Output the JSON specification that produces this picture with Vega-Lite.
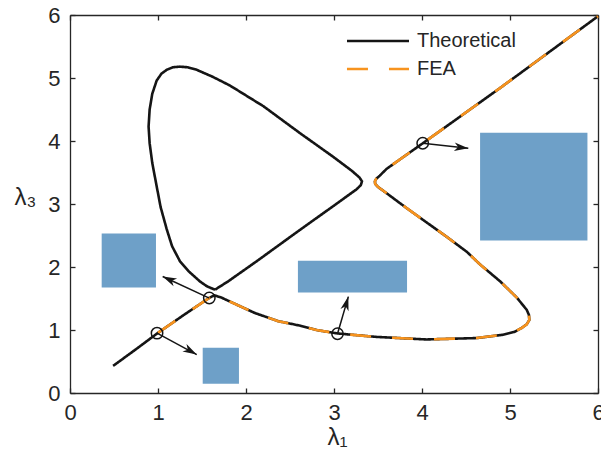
{
"$schema":"https://vega.github.io/schema/vega-lite/v6.json",
"width":528,"height":378,"autosize":"none",
"padding":{"left":70,"top":15,"right":3,"bottom":62},
"config":{
 "font":"Liberation Sans",
 "view":{"stroke":null},
 "axis":{"domainColor":"#262626","domainWidth":1.3,"tickColor":"#262626","tickWidth":1.3,"labelColor":"#262626","titleColor":"#262626","labelFontSize":22,"grid":false,"titleFontWeight":"normal","labelFlush":false,"labelOverlap":false},
 "legend":{"symbolType":"M-5,0H5","symbolSize":154,"symbolStrokeWidth":2.5,"labelFontSize":20,"labelColor":"#262626","labelOffset":29,"rowPadding":8,"padding":0}
},
"datasets":{
 "curves":[
  {"series":"Theoretical","branch":"main","i":0,"x":0.49,"y":0.43},
  {"series":"Theoretical","branch":"main","i":1,"x":0.75,"y":0.695},
  {"series":"Theoretical","branch":"main","i":2,"x":1.0,"y":0.955},
  {"series":"Theoretical","branch":"main","i":3,"x":1.3,"y":1.245},
  {"series":"Theoretical","branch":"main","i":4,"x":1.583,"y":1.51},
  {"series":"Theoretical","branch":"main","i":5,"x":1.64,"y":1.55},
  {"series":"Theoretical","branch":"main","i":6,"x":1.72,"y":1.515},
  {"series":"Theoretical","branch":"main","i":7,"x":1.84,"y":1.437},
  {"series":"Theoretical","branch":"main","i":8,"x":2.1,"y":1.27},
  {"series":"Theoretical","branch":"main","i":9,"x":2.367,"y":1.14},
  {"series":"Theoretical","branch":"main","i":10,"x":2.61,"y":1.07},
  {"series":"Theoretical","branch":"main","i":11,"x":2.8,"y":1.0},
  {"series":"Theoretical","branch":"main","i":12,"x":3.04,"y":0.945},
  {"series":"Theoretical","branch":"main","i":13,"x":3.485,"y":0.89},
  {"series":"Theoretical","branch":"main","i":14,"x":4.05,"y":0.85},
  {"series":"Theoretical","branch":"main","i":15,"x":4.62,"y":0.872},
  {"series":"Theoretical","branch":"main","i":16,"x":4.92,"y":0.925},
  {"series":"Theoretical","branch":"main","i":17,"x":5.05,"y":0.97},
  {"series":"Theoretical","branch":"main","i":18,"x":5.13,"y":1.03},
  {"series":"Theoretical","branch":"main","i":19,"x":5.19,"y":1.09},
  {"series":"Theoretical","branch":"main","i":20,"x":5.22,"y":1.16},
  {"series":"Theoretical","branch":"main","i":21,"x":5.215,"y":1.24},
  {"series":"Theoretical","branch":"main","i":22,"x":5.19,"y":1.32},
  {"series":"Theoretical","branch":"main","i":23,"x":5.08,"y":1.51},
  {"series":"Theoretical","branch":"main","i":24,"x":4.89,"y":1.77},
  {"series":"Theoretical","branch":"main","i":25,"x":4.66,"y":2.04},
  {"series":"Theoretical","branch":"main","i":26,"x":4.51,"y":2.24},
  {"series":"Theoretical","branch":"main","i":27,"x":4.28,"y":2.48},
  {"series":"Theoretical","branch":"main","i":28,"x":3.826,"y":2.934},
  {"series":"Theoretical","branch":"main","i":29,"x":3.56,"y":3.21},
  {"series":"Theoretical","branch":"main","i":30,"x":3.5,"y":3.27},
  {"series":"Theoretical","branch":"main","i":31,"x":3.468,"y":3.32},
  {"series":"Theoretical","branch":"main","i":32,"x":3.465,"y":3.36},
  {"series":"Theoretical","branch":"main","i":33,"x":3.48,"y":3.4},
  {"series":"Theoretical","branch":"main","i":34,"x":3.52,"y":3.45},
  {"series":"Theoretical","branch":"main","i":35,"x":3.6,"y":3.56},
  {"series":"Theoretical","branch":"main","i":36,"x":4.01,"y":3.965},
  {"series":"Theoretical","branch":"main","i":37,"x":4.886,"y":4.84},
  {"series":"Theoretical","branch":"main","i":38,"x":6.0,"y":5.98},
  {"series":"Theoretical","branch":"loop","i":0,"x":1.648,"y":1.64},
  {"series":"Theoretical","branch":"loop","i":1,"x":1.56,"y":1.69},
  {"series":"Theoretical","branch":"loop","i":2,"x":1.477,"y":1.77},
  {"series":"Theoretical","branch":"loop","i":3,"x":1.35,"y":1.93},
  {"series":"Theoretical","branch":"loop","i":4,"x":1.25,"y":2.09},
  {"series":"Theoretical","branch":"loop","i":5,"x":1.16,"y":2.33},
  {"series":"Theoretical","branch":"loop","i":6,"x":1.099,"y":2.6},
  {"series":"Theoretical","branch":"loop","i":7,"x":1.03,"y":2.95},
  {"series":"Theoretical","branch":"loop","i":8,"x":0.985,"y":3.28},
  {"series":"Theoretical","branch":"loop","i":9,"x":0.935,"y":3.65},
  {"series":"Theoretical","branch":"loop","i":10,"x":0.905,"y":3.965},
  {"series":"Theoretical","branch":"loop","i":11,"x":0.893,"y":4.23},
  {"series":"Theoretical","branch":"loop","i":12,"x":0.905,"y":4.5},
  {"series":"Theoretical","branch":"loop","i":13,"x":0.935,"y":4.75},
  {"series":"Theoretical","branch":"loop","i":14,"x":0.985,"y":4.96},
  {"series":"Theoretical","branch":"loop","i":15,"x":1.04,"y":5.07},
  {"series":"Theoretical","branch":"loop","i":16,"x":1.099,"y":5.13},
  {"series":"Theoretical","branch":"loop","i":17,"x":1.17,"y":5.17},
  {"series":"Theoretical","branch":"loop","i":18,"x":1.25,"y":5.18},
  {"series":"Theoretical","branch":"loop","i":19,"x":1.34,"y":5.17},
  {"series":"Theoretical","branch":"loop","i":20,"x":1.44,"y":5.13},
  {"series":"Theoretical","branch":"loop","i":21,"x":1.62,"y":5.02},
  {"series":"Theoretical","branch":"loop","i":22,"x":1.818,"y":4.88},
  {"series":"Theoretical","branch":"loop","i":23,"x":2.2,"y":4.55},
  {"series":"Theoretical","branch":"loop","i":24,"x":2.614,"y":4.124},
  {"series":"Theoretical","branch":"loop","i":25,"x":2.99,"y":3.75},
  {"series":"Theoretical","branch":"loop","i":26,"x":3.2,"y":3.53},
  {"series":"Theoretical","branch":"loop","i":27,"x":3.29,"y":3.42},
  {"series":"Theoretical","branch":"loop","i":28,"x":3.318,"y":3.36},
  {"series":"Theoretical","branch":"loop","i":29,"x":3.305,"y":3.3},
  {"series":"Theoretical","branch":"loop","i":30,"x":3.258,"y":3.235},
  {"series":"Theoretical","branch":"loop","i":31,"x":3.0,"y":2.975},
  {"series":"Theoretical","branch":"loop","i":32,"x":2.614,"y":2.59},
  {"series":"Theoretical","branch":"loop","i":33,"x":2.12,"y":2.09},
  {"series":"Theoretical","branch":"loop","i":34,"x":1.8,"y":1.775},
  {"series":"Theoretical","branch":"loop","i":35,"x":1.648,"y":1.64},
  {"series":"FEA","branch":"fea","i":2,"x":1.0,"y":0.955},
  {"series":"FEA","branch":"fea","i":3,"x":1.3,"y":1.245},
  {"series":"FEA","branch":"fea","i":4,"x":1.583,"y":1.51},
  {"series":"FEA","branch":"fea","i":5,"x":1.64,"y":1.55},
  {"series":"FEA","branch":"fea","i":6,"x":1.72,"y":1.515},
  {"series":"FEA","branch":"fea","i":7,"x":1.84,"y":1.437},
  {"series":"FEA","branch":"fea","i":8,"x":2.1,"y":1.27},
  {"series":"FEA","branch":"fea","i":9,"x":2.367,"y":1.14},
  {"series":"FEA","branch":"fea","i":10,"x":2.61,"y":1.07},
  {"series":"FEA","branch":"fea","i":11,"x":2.8,"y":1.0},
  {"series":"FEA","branch":"fea","i":12,"x":3.04,"y":0.945},
  {"series":"FEA","branch":"fea","i":13,"x":3.485,"y":0.89},
  {"series":"FEA","branch":"fea","i":14,"x":4.05,"y":0.85},
  {"series":"FEA","branch":"fea","i":15,"x":4.62,"y":0.872},
  {"series":"FEA","branch":"fea","i":16,"x":4.92,"y":0.925},
  {"series":"FEA","branch":"fea","i":17,"x":5.05,"y":0.97},
  {"series":"FEA","branch":"fea","i":18,"x":5.13,"y":1.03},
  {"series":"FEA","branch":"fea","i":19,"x":5.19,"y":1.09},
  {"series":"FEA","branch":"fea","i":20,"x":5.22,"y":1.16},
  {"series":"FEA","branch":"fea","i":21,"x":5.215,"y":1.24},
  {"series":"FEA","branch":"fea","i":22,"x":5.19,"y":1.32},
  {"series":"FEA","branch":"fea","i":23,"x":5.08,"y":1.51},
  {"series":"FEA","branch":"fea","i":24,"x":4.89,"y":1.77},
  {"series":"FEA","branch":"fea","i":25,"x":4.66,"y":2.04},
  {"series":"FEA","branch":"fea","i":26,"x":4.51,"y":2.24},
  {"series":"FEA","branch":"fea","i":27,"x":4.28,"y":2.48},
  {"series":"FEA","branch":"fea","i":28,"x":3.826,"y":2.934},
  {"series":"FEA","branch":"fea","i":29,"x":3.56,"y":3.21},
  {"series":"FEA","branch":"fea","i":30,"x":3.5,"y":3.27},
  {"series":"FEA","branch":"fea","i":31,"x":3.468,"y":3.32},
  {"series":"FEA","branch":"fea","i":32,"x":3.465,"y":3.36},
  {"series":"FEA","branch":"fea","i":33,"x":3.48,"y":3.4},
  {"series":"FEA","branch":"fea","i":34,"x":3.52,"y":3.45},
  {"series":"FEA","branch":"fea","i":35,"x":3.6,"y":3.56},
  {"series":"FEA","branch":"fea","i":36,"x":4.01,"y":3.965},
  {"series":"FEA","branch":"fea","i":37,"x":4.886,"y":4.84},
  {"series":"FEA","branch":"fea","i":38,"x":6.0,"y":5.98}
 ],
 "shapes":[
  {"x1":0.36,"x2":0.977,"y1":1.675,"y2":2.53},
  {"x1":1.508,"x2":1.92,"y1":0.148,"y2":0.72},
  {"x1":2.59,"x2":3.83,"y1":1.595,"y2":2.1},
  {"x1":4.66,"x2":5.88,"y1":2.42,"y2":4.13}
 ],
 "arrows":[
  {"x":0.989,"y":0.95,"tx":1.44,"ty":0.61,"ang":119},
  {"x":1.583,"y":1.507,"tx":1.053,"ty":1.85,"ang":295},
  {"x":3.04,"y":0.94,"tx":3.163,"ty":1.53,"ang":16},
  {"x":4.008,"y":3.965,"tx":4.526,"ty":3.886,"ang":96}
 ]
},
"layer":[
 {"data":{"name":"shapes"},"mark":{"type":"rect","color":"#6EA0C8"},
  "encoding":{
   "x":{"field":"x1","type":"quantitative","scale":{"domain":[0,6],"nice":false},
        "axis":{"values":[0,1,2,3,4,5,6],"tickSize":-5,"labelPadding":14,"title":"λ₁","titleFontSize":24,"titleX":267,"titleY":44,"titleBaseline":"middle"}},
   "x2":{"field":"x2"},
   "y":{"field":"y1","type":"quantitative","scale":{"domain":[0,6],"nice":false},
        "axis":{"values":[0,1,2,3,4,5,6],"tickSize":-5,"labelPadding":15,"title":"λ₃","titleFontSize":24,"titleAngle":0,"titleX":-45,"titleY":182,"titleAlign":"center","titleBaseline":"middle"}},
   "y2":{"field":"y2"}
  }},
 {"data":{"name":"curves"},"transform":[{"filter":"datum.series==='Theoretical'"}],
  "mark":{"type":"line","strokeWidth":2.6,"strokeCap":"butt","strokeJoin":"round"},
  "encoding":{
   "x":{"field":"x","type":"quantitative","axis":null},
   "y":{"field":"y","type":"quantitative","axis":null},
   "detail":{"field":"branch"},
   "order":{"field":"i","type":"quantitative"},
   "color":{"field":"series","type":"nominal","scale":{"domain":["Theoretical","FEA"],"range":["#151515","#F7931E"]},
     "legend":{"title":null,"orient":"none","legendX":298,"legendY":16}},
   "strokeDash":{"field":"series","type":"nominal","scale":{"domain":["Theoretical","FEA"],"range":[[1,0],[21,21]]},
     "legend":{"title":null,"orient":"none","legendX":298,"legendY":16}}
  }},
 {"data":{"name":"curves"},"transform":[{"filter":"datum.series==='FEA'"}],
  "mark":{"type":"line","strokeWidth":2.6,"strokeCap":"butt","strokeJoin":"round"},
  "encoding":{
   "x":{"field":"x","type":"quantitative","axis":null},
   "y":{"field":"y","type":"quantitative","axis":null},
   "order":{"field":"i","type":"quantitative"},
   "color":{"field":"series","type":"nominal"},
   "strokeDash":{"field":"series","type":"nominal"}
  }},
 {"data":{"name":"arrows"},"mark":{"type":"rule","color":"#151515","strokeWidth":1.5},
  "encoding":{
   "x":{"field":"x","type":"quantitative","axis":null},
   "y":{"field":"y","type":"quantitative","axis":null},
   "x2":{"field":"tx"},"y2":{"field":"ty"}
  }},
 {"data":{"name":"arrows"},"mark":{"type":"point","shape":"M0,0L0.6,2L0,1.45L-0.6,2Z","filled":true,"color":"#151515","opacity":1,"size":196,"strokeWidth":0},
  "encoding":{
   "x":{"field":"tx","type":"quantitative","axis":null},
   "y":{"field":"ty","type":"quantitative","axis":null},
   "angle":{"field":"ang","type":"quantitative","scale":null}
  }},
 {"data":{"name":"arrows"},"mark":{"type":"point","shape":"circle","filled":false,"color":"#151515","opacity":1,"size":130,"strokeWidth":1.5},
  "encoding":{
   "x":{"field":"x","type":"quantitative","axis":{"orient":"top","values":[0,1,2,3,4,5,6],"tickSize":-5,"labels":false,"title":null}},
   "y":{"field":"y","type":"quantitative","axis":{"orient":"right","values":[0,1,2,3,4,5,6],"tickSize":-5,"labels":false,"title":null}}
  }}
],
"resolve":{"axis":{"x":"independent","y":"independent"}}
}
